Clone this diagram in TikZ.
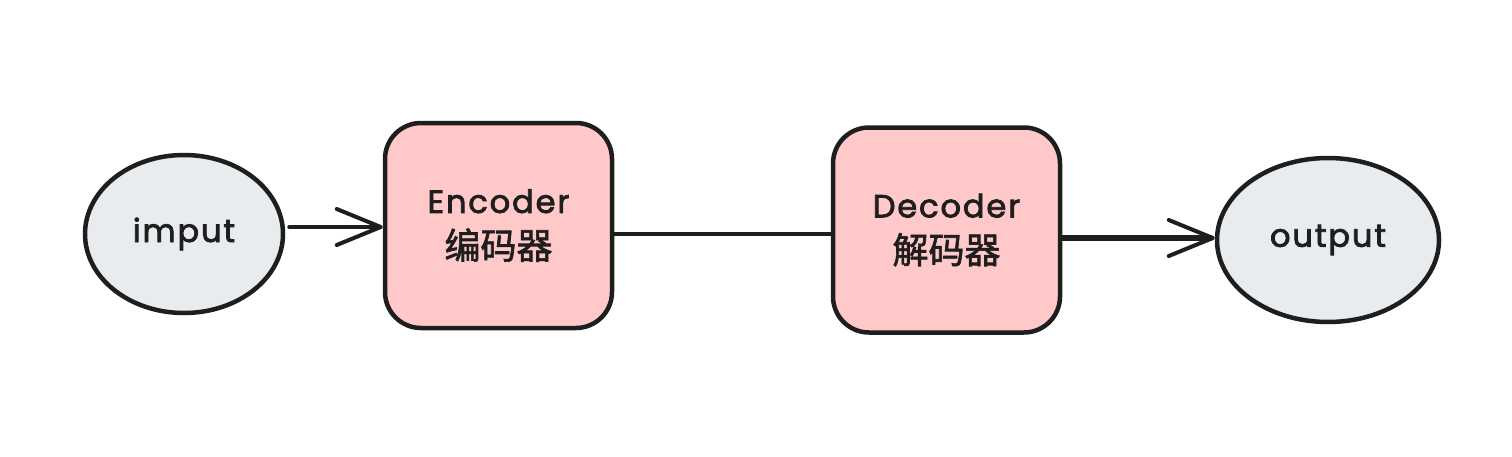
\documentclass[tikz,border=0pt]{standalone}
\usepackage{fontspec}
\setmainfont{Poppins}[LetterSpace=6, FakeBold=2.5]
\newfontfamily\cjk{Noto Sans CJK SC}[FakeBold=1.8]
\usetikzlibrary{shapes.geometric,arrows.meta}
\definecolor{ink}{HTML}{1E1E1E}
\definecolor{boxfill}{HTML}{FFC9C9}
\definecolor{ellfill}{HTML}{E9ECEF}
\tikzset{
  ioell/.style={ellipse, draw=ink, fill=ellfill, line width=4.5pt, inner sep=0pt, font=\fontsize{32}{34}\selectfont, text=ink},
  codebox/.style={rectangle, rounded corners=36pt, draw=ink, fill=boxfill, line width=4.5pt, inner sep=0pt, minimum width=227pt, minimum height=205pt, align=center, font=\fontsize{32}{48}\selectfont, text=ink},
  conn/.style={draw=ink, line width=4pt, line cap=round},
  arr/.style={conn, -{Straight Barb[length=44pt,width=36pt,line width=4pt,round]}},
}
\begin{document}
\begin{tikzpicture}[x=1pt,y=-1pt]
\useasboundingbox (0,0) rectangle (1512,456);
\node[ioell, minimum width=198pt, minimum height=158pt] (in) at (184,234) {imput};
\node[codebox] (enc) at (498.5,225.5) {Encoder\\[-2pt]{\cjk\fontsize{36}{48}\selectfont 编码器}};
\node[codebox] (dec) at (946.5,230) {Decoder\\[-2pt]{\cjk\fontsize{36}{48}\selectfont 解码器}};
\node[ioell, minimum width=222pt, minimum height=164pt] (out) at (1328,240) {output};
\draw[arr] ([xshift=4pt,yshift=-1.5pt]in.east|-enc.west) -- ([yshift=-1.5pt]enc.west);
\draw[conn] ([yshift=-8pt]enc.east) -- ([yshift=-8pt]enc.east-|dec.west);
\draw[arr, line width=5.5pt] ([yshift=-8pt]dec.east) -- ([yshift=-8pt]dec.east-|out.west);
\end{tikzpicture}
\end{document}
